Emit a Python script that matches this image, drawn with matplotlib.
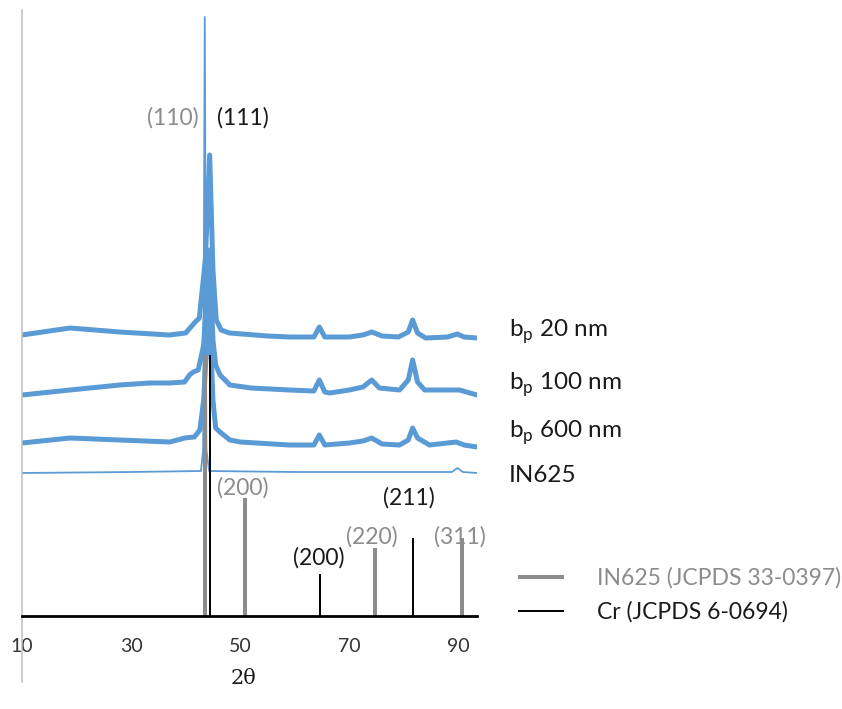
import matplotlib
matplotlib.use("Agg")
import matplotlib.pyplot as plt

plt.rcParams['font.family'] = ['Lato', 'DejaVu Sans']
plt.rcParams['mathtext.fontset'] = 'custom'
plt.rcParams['mathtext.rm'] = 'Lato'

# ---------------- data (arbitrary intensity units) -------------
# measured patterns (already stacked)
tt_20 = [10, 18.8, 27.9, 37, 40, 41.6, 42.5, 43.6, 44.4, 45.0, 45.6, 46.5, 48, 55, 59, 63.5,
         64.5, 65.5, 70, 72.5, 74.1, 76, 79, 80.8, 81.6, 82.5, 84, 88, 89.8, 91, 93.4]
int_20 = [281, 288, 284, 281, 283, 293, 298, 356, 461, 346, 296, 286, 283, 280, 279, 279,
          289, 279, 279, 281, 284, 280, 279, 284, 296, 283, 278, 279, 282, 279, 278]

tt_100 = [10, 18.8, 27.9, 33.4, 37, 39.8, 40.7, 41.4, 42.3, 43.3, 44.3, 45.0, 45.5, 46.3, 48.1,
          52, 59, 63.5, 64.5, 65.5, 66.4, 70, 72.5, 74.1, 75.5, 79.2, 80.8, 81.6, 82.5, 83.8,
          90.2, 93.4]
int_100 = [221, 226, 231, 233, 233, 234, 241, 244, 246, 271, 366, 276, 251, 241, 231,
           228, 226, 225, 236, 224, 223, 226, 229, 236, 228, 226, 236, 256, 234, 226,
           226, 221]

tt_600 = [10, 18.8, 27.9, 37.1, 39.8, 41.6, 42.6, 43.3, 44.3, 45.0, 45.5, 46.5, 48.1, 50, 59,
          63.5, 64.5, 65.5, 70, 72.5, 74.1, 76, 79.2, 80.8, 81.6, 82.5, 84.7, 89.6, 91, 93.4]
int_600 = [173, 178, 176, 174, 178, 179, 186, 216, 316, 216, 188, 183, 176, 174, 171,
           171, 181, 171, 173, 175, 178, 172, 171, 176, 188, 178, 171, 174, 171, 169]

tt_in625 = [10, 30, 42.8, 43.2, 43.5, 43.8, 44.3, 60, 88.8, 89.8, 90.8, 93.4]
int_in625 = [143, 144, 145, 166, 599, 166, 145, 144, 144, 148, 144, 143]

# reference patterns
in625_pos = [43.6, 50.8, 74.7, 90.7]
in625_int = [261, 118, 68, 78]
cr_pos = [44.4, 64.6, 81.7]
cr_int = [261, 42, 78]

x_ticks = [10, 30, 50, 70, 90]

blue = '#5b9bd5'
gray = '#8c8c8c'
txt = '#1a1a1a'

# ---------------- figure -------------
fig = plt.figure(figsize=(8.42, 7.09), dpi=100)
ax = fig.add_axes([22 / 842, 27 / 709, 455 / 842, 672 / 709])

ax.plot(tt_20, int_20, color=blue, lw=3.6, solid_joinstyle='round')
ax.plot(tt_100, int_100, color=blue, lw=3.6, solid_joinstyle='round')
ax.plot(tt_600, int_600, color=blue, lw=3.6, solid_joinstyle='round')
ax.plot(tt_in625, int_in625, color=blue, lw=1.3)

ax.vlines(in625_pos, 0, in625_int, color=gray, lw=2.9, label='IN625 (JCPDS 33-0397)')
ax.vlines(cr_pos, 0, cr_int, color='black', lw=1.4, label='Cr (JCPDS 6-0694)')

ax.set_xlim(10, 93.4)
ax.set_ylim(-66, 606)
ax.set_xticks(x_ticks)
ax.set_yticks([])
ax.tick_params(axis='x', length=0, pad=16, labelsize=14, labelcolor='#333333')

ax.spines['top'].set_visible(False)
ax.spines['right'].set_visible(False)
ax.spines['left'].set_color('#bfbfbf')
ax.spines['left'].set_linewidth(1.1)
ax.spines['bottom'].set_position(('data', 0))
ax.spines['bottom'].set_linewidth(2.0)
ax.spines['bottom'].set_color('black')

# hkl labels
fs = 16.5
ax.text(37.6, 498, '(110)', color=gray, fontsize=fs, ha='center', va='center')
ax.text(50.4, 498, '(111)', color=txt, fontsize=fs, ha='center', va='center')
ax.text(50.4, 128, '(200)', color=gray, fontsize=fs, ha='center', va='center')
ax.text(81.0, 118, '(211)', color=txt, fontsize=fs, ha='center', va='center')
ax.text(74.1, 79, '(220)', color=gray, fontsize=fs, ha='center', va='center')
ax.text(90.2, 79, '(311)', color=gray, fontsize=fs, ha='center', va='center')
ax.text(64.4, 58, '(200)', color=txt, fontsize=fs, ha='center', va='center')

# pattern names on the right
fs2 = 17.5
fig.text(509 / 842, 1 - 332 / 709, r'b$_{\mathrm{p}}$ 20 nm', fontsize=fs2, va='center', color=txt)
fig.text(509 / 842, 1 - 385 / 709, r'b$_{\mathrm{p}}$ 100 nm', fontsize=fs2, va='center', color=txt)
fig.text(509 / 842, 1 - 433 / 709, r'b$_{\mathrm{p}}$ 600 nm', fontsize=fs2, va='center', color=txt)
fig.text(509 / 842, 1 - 475 / 709, 'IN625', fontsize=fs2, va='center', color=txt)

fig.text(243 / 842, 1 - 679 / 709, '2θ', fontsize=15, ha='center', va='center',
         family=['DejaVu Serif'], color=txt)

leg = ax.legend(loc='center left', bbox_to_anchor=(518 / 842, 1 - 595 / 709),
                bbox_transform=fig.transFigure, frameon=False, fontsize=16.5,
                handlelength=2.0, handletextpad=1.45, labelspacing=0.55,
                borderpad=0, borderaxespad=0)
leg.get_texts()[0].set_color(gray)
leg.get_texts()[1].set_color(txt)

fig.savefig('out.png', dpi=100)
